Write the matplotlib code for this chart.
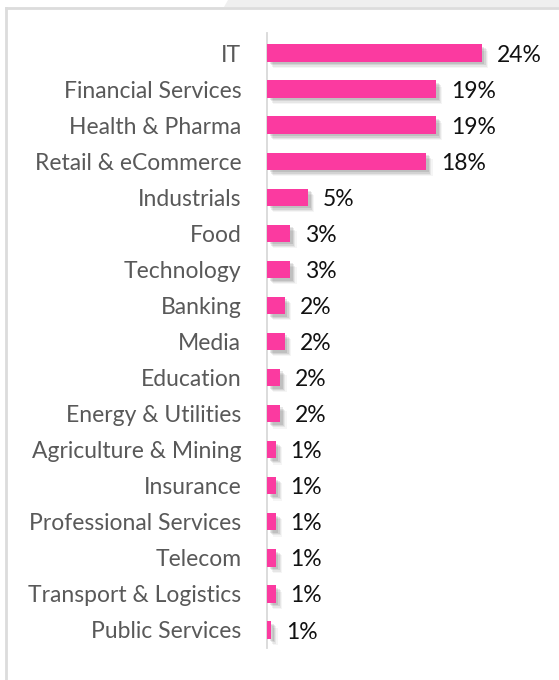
import matplotlib
matplotlib.use("Agg")
import matplotlib.pyplot as plt
import matplotlib.patheffects as pe
from matplotlib.patches import Polygon
from matplotlib.lines import Line2D

categories = ["IT", "Financial Services", "Health & Pharma", "Retail & eCommerce",
              "Industrials", "Food", "Technology", "Banking", "Media", "Education",
              "Energy & Utilities", "Agriculture & Mining", "Insurance",
              "Professional Services", "Telecom", "Transport & Logistics",
              "Public Services"]
values = [24.0, 18.9, 18.9, 17.8, 4.6, 2.6, 2.6, 2.0, 2.0, 1.5, 1.5,
          1.0, 1.0, 1.0, 1.0, 1.0, 0.5]
value_labels = ["24%", "19%", "19%", "18%", "5%", "3%", "3%", "2%", "2%", "2%",
                "2%", "1%", "1%", "1%", "1%", "1%", "1%"]

W, H = 559, 680
fig = plt.figure(figsize=(W / 100, H / 100), dpi=100)
fig.patch.set_facecolor("white")

# outer background: gray area top-right, card border
fig.patches.append(Polygon([(228 / W, 1), (1, 1), (1, 1 - 7 / H), (224 / W, 1 - 7 / H)],
                           closed=True, transform=fig.transFigure,
                           facecolor="#efefef", edgecolor="none", zorder=0))
fig.lines.append(Line2D([6 / W, 1], [1 - 8 / H, 1 - 8 / H], transform=fig.transFigure,
                        color="#dcdcdc", lw=2.0, zorder=1))
fig.lines.append(Line2D([6 / W, 6 / W], [0, 1 - 8 / H], transform=fig.transFigure,
                        color="#dcdcdc", lw=2.0, zorder=1))

ax_left = 267 / W
ax_right = 540 / W
ax_top = 33
ax_bot = 648
ax = fig.add_axes([ax_left, (H - ax_bot) / H, ax_right - ax_left, (ax_bot - ax_top) / H])
ax.set_facecolor("none")

n = len(categories)
ypos = list(range(n))
px_per_unit = 8.95
xmax = (540 - 267) / px_per_unit

shadow = [pe.SimplePatchShadow(offset=(o, -o), shadow_rgbFace="#000000", alpha=a)
          for o, a in [(4.5, 0.04), (3.6, 0.06), (2.7, 0.08), (1.8, 0.09)]]
bars = ax.barh(ypos, values, height=0.48, color="#FB3AA0", zorder=3)
for b in bars:
    b.set_path_effects(shadow + [pe.Normal()])

for y, v, lab in zip(ypos, values, value_labels):
    ax.annotate(lab, xy=(v, y), xytext=(10.5, -1.5), textcoords="offset points",
                ha="left", va="center", fontsize=16.5, color="#111111",
                family="Lato")

ax.set_xlim(0, xmax)
ax.set_ylim(n - 0.5, -0.555)
ax.set_yticks(ypos)
ax.set_yticklabels(categories, fontsize=16.5, color="#595959", family="Lato")
ax.tick_params(axis="y", length=0, pad=18.5)
ax.set_xticks([])
for s in ["top", "right", "bottom"]:
    ax.spines[s].set_visible(False)
ax.spines["left"].set_color("#d9d9d9")
ax.spines["left"].set_linewidth(1.3)
ax.spines["left"].set_zorder(2)

fig.savefig("out.png", dpi=100, facecolor="white")
